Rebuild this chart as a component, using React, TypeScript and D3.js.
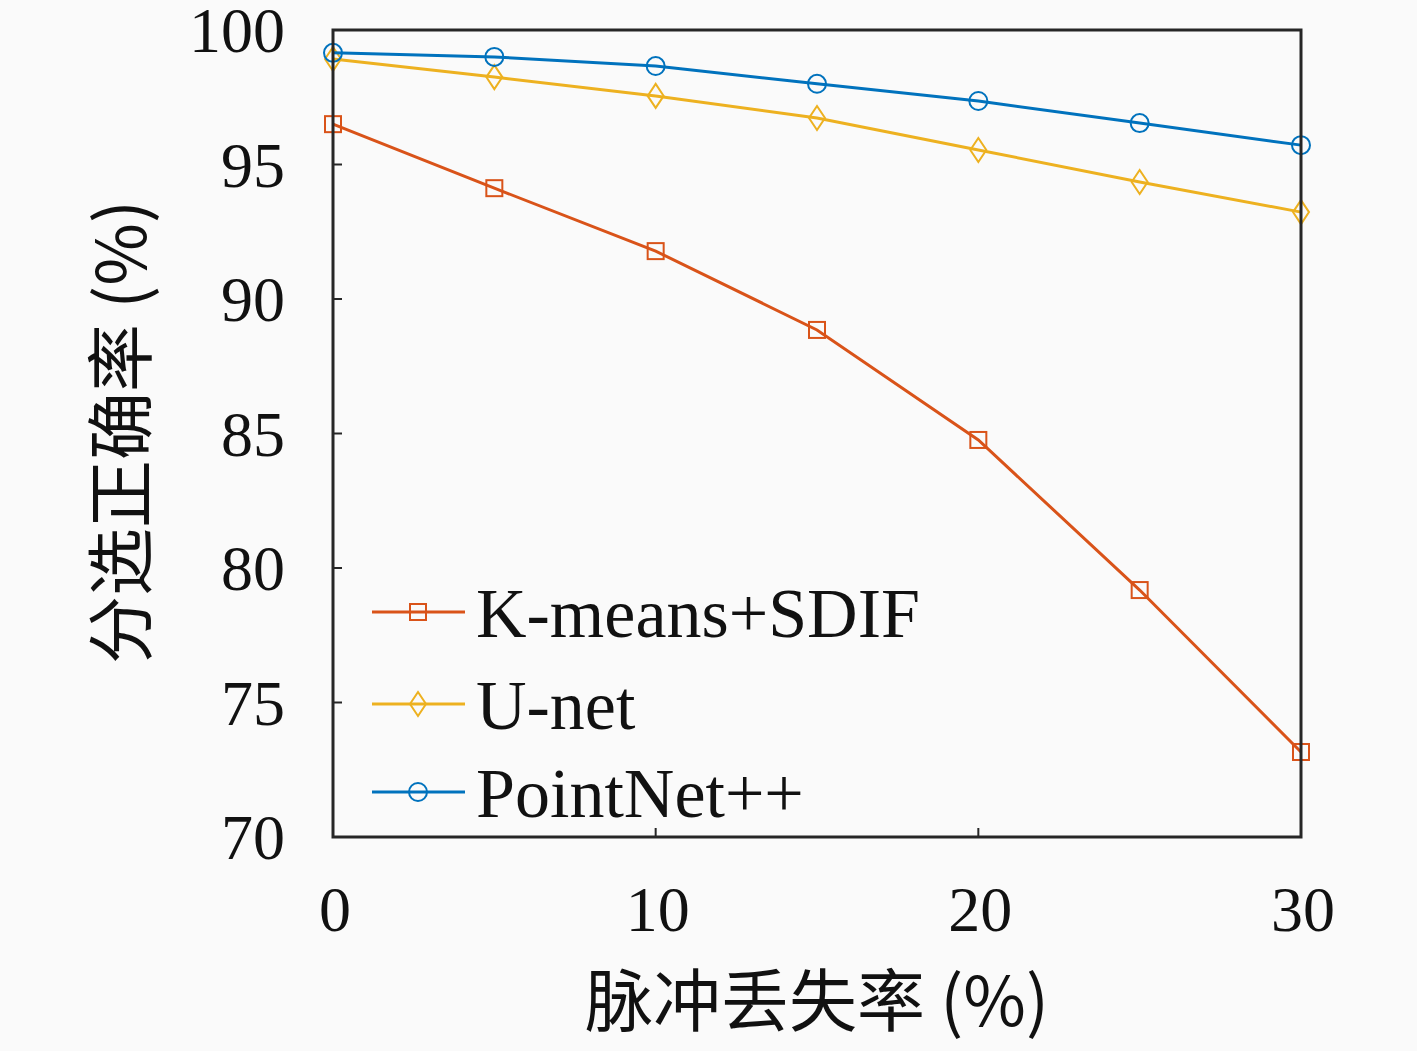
import { useEffect, useRef } from 'react';
import * as d3 from 'd3';

const lossRates = [0, 5, 10, 15, 20, 25, 30];
const kmeansSdif = [96.5, 94.12, 91.78, 88.85, 84.76, 79.18, 73.16];
const unet = [98.92, 98.25, 97.55, 96.73, 95.54, 94.35, 93.23];
const pointNet = [99.15, 99.0, 98.66, 98.0, 97.36, 96.54, 95.72];

const xTicks = [0, 10, 20, 30];
const yTicks = [70, 75, 80, 85, 90, 95, 100];

const seriesNames = ['K-means+SDIF', 'U-net', 'PointNet++'];
const seriesColors = ['#D95319', '#EDB120', '#0072BD'];
const seriesMarkers = ['square', 'diamond', 'circle'];

const W = 1417;
const H = 1051;

export default function App() {
  const svgRef = useRef<SVGSVGElement>(null);

  useEffect(() => {
    if (!svgRef.current) return;
    d3.select(svgRef.current).selectAll('*').remove();

    const margin = { top: 30, right: 116, bottom: 214, left: 333 };
    const width = W - margin.left - margin.right;
    const height = H - margin.top - margin.bottom;

    const svg = d3.select(svgRef.current)
      .attr('width', W)
      .attr('height', H);

    svg.append('rect').attr('width', W).attr('height', H).attr('fill', '#fafafa');

    const g = svg.append('g')
      .attr('transform', `translate(${margin.left},${margin.top})`);

    const xScale = d3.scaleLinear().domain([0, 30]).range([0, width]);
    const yScale = d3.scaleLinear().domain([70, 100]).range([height, 0]);

    const serif = '"Liberation Serif", "DejaVu Serif", serif';
    const cjk = '"Noto Sans CJK SC", sans-serif';

    // ticks, inward
    g.selectAll('.xt').data(xTicks).enter().append('line')
      .attr('x1', d => xScale(d)).attr('x2', d => xScale(d))
      .attr('y1', height).attr('y2', height - 9)
      .attr('stroke', '#262626').attr('stroke-width', 2);
    g.selectAll('.yt').data(yTicks).enter().append('line')
      .attr('x1', 0).attr('x2', 9)
      .attr('y1', d => yScale(d)).attr('y2', d => yScale(d))
      .attr('stroke', '#262626').attr('stroke-width', 2);

    // tick labels
    g.selectAll('.xl').data(xTicks).enter().append('text')
      .attr('x', d => xScale(d) + 2)
      .attr('y', height + 94)
      .attr('text-anchor', 'middle')
      .attr('font-family', serif)
      .attr('font-size', 64)
      .attr('fill', '#111')
      .text(d => d);
    g.selectAll('.yl').data(yTicks).enter().append('text')
      .attr('x', -48)
      .attr('y', d => yScale(d) + 22)
      .attr('text-anchor', 'end')
      .attr('font-family', serif)
      .attr('font-size', 64)
      .attr('fill', '#111')
      .text(d => d);

    // axis labels
    svg.append('text')
      .attr('x', 817).attr('y', 1026)
      .attr('text-anchor', 'middle')
      .attr('font-family', cjk)
      .attr('font-size', 68)
      .attr('fill', '#111')
      .text('脉冲丢失率 (%)');
    svg.append('text')
      .attr('transform', 'translate(146,432) rotate(-90)')
      .attr('text-anchor', 'middle')
      .attr('font-family', cjk)
      .attr('font-size', 68)
      .attr('fill', '#111')
      .text('分选正确率 (%)');

    const allSeries = [kmeansSdif, unet, pointNet];

    const line = d3.line<number>()
      .x((_, i) => xScale(lossRates[i]))
      .y(d => yScale(d));

    const drawMarker = (sel: d3.Selection<SVGGElement, unknown, null, undefined>, type: string, color: string) => {
      if (type === 'square') {
        sel.append('rect').attr('x', -8).attr('y', -8).attr('width', 16).attr('height', 16)
          .attr('fill', 'none').attr('stroke', color).attr('stroke-width', 2);
      } else if (type === 'diamond') {
        sel.append('path').attr('d', 'M0,-12L8,0L0,12L-8,0Z')
          .attr('fill', 'none').attr('stroke', color).attr('stroke-width', 2);
      } else {
        sel.append('circle').attr('r', 9)
          .attr('fill', 'none').attr('stroke', color).attr('stroke-width', 2);
      }
    };

    allSeries.forEach((vals, si) => {
      g.append('path')
        .datum(vals)
        .attr('fill', 'none')
        .attr('stroke', seriesColors[si])
        .attr('stroke-width', 3)
        .attr('d', line);
      vals.forEach((v, i) => {
        const m = g.append('g')
          .attr('transform', `translate(${xScale(lossRates[i])},${yScale(v)})`);
        drawMarker(m as any, seriesMarkers[si], seriesColors[si]);
      });
    });

    // frame
    g.append('rect')
      .attr('width', width).attr('height', height)
      .attr('fill', 'none').attr('stroke', '#262626').attr('stroke-width', 3);

    // legend
    const legendY = [612, 704, 792];
    seriesNames.forEach((name, i) => {
      const lg = svg.append('g').attr('transform', `translate(0,${legendY[i]})`);
      lg.append('line').attr('x1', 372).attr('x2', 465).attr('y1', 0).attr('y2', 0)
        .attr('stroke', seriesColors[i]).attr('stroke-width', 3);
      const m = lg.append('g').attr('transform', 'translate(418,0)');
      drawMarker(m as any, seriesMarkers[i], seriesColors[i]);
      lg.append('text')
        .attr('x', 476).attr('y', 25)
        .attr('font-family', serif)
        .attr('font-size', 70)
        .attr('fill', '#111')
        .text(name);
    });
  }, []);

  return <svg ref={svgRef} style={{ display: 'block', position: 'absolute', left: 0, top: 0 }} />;
}
